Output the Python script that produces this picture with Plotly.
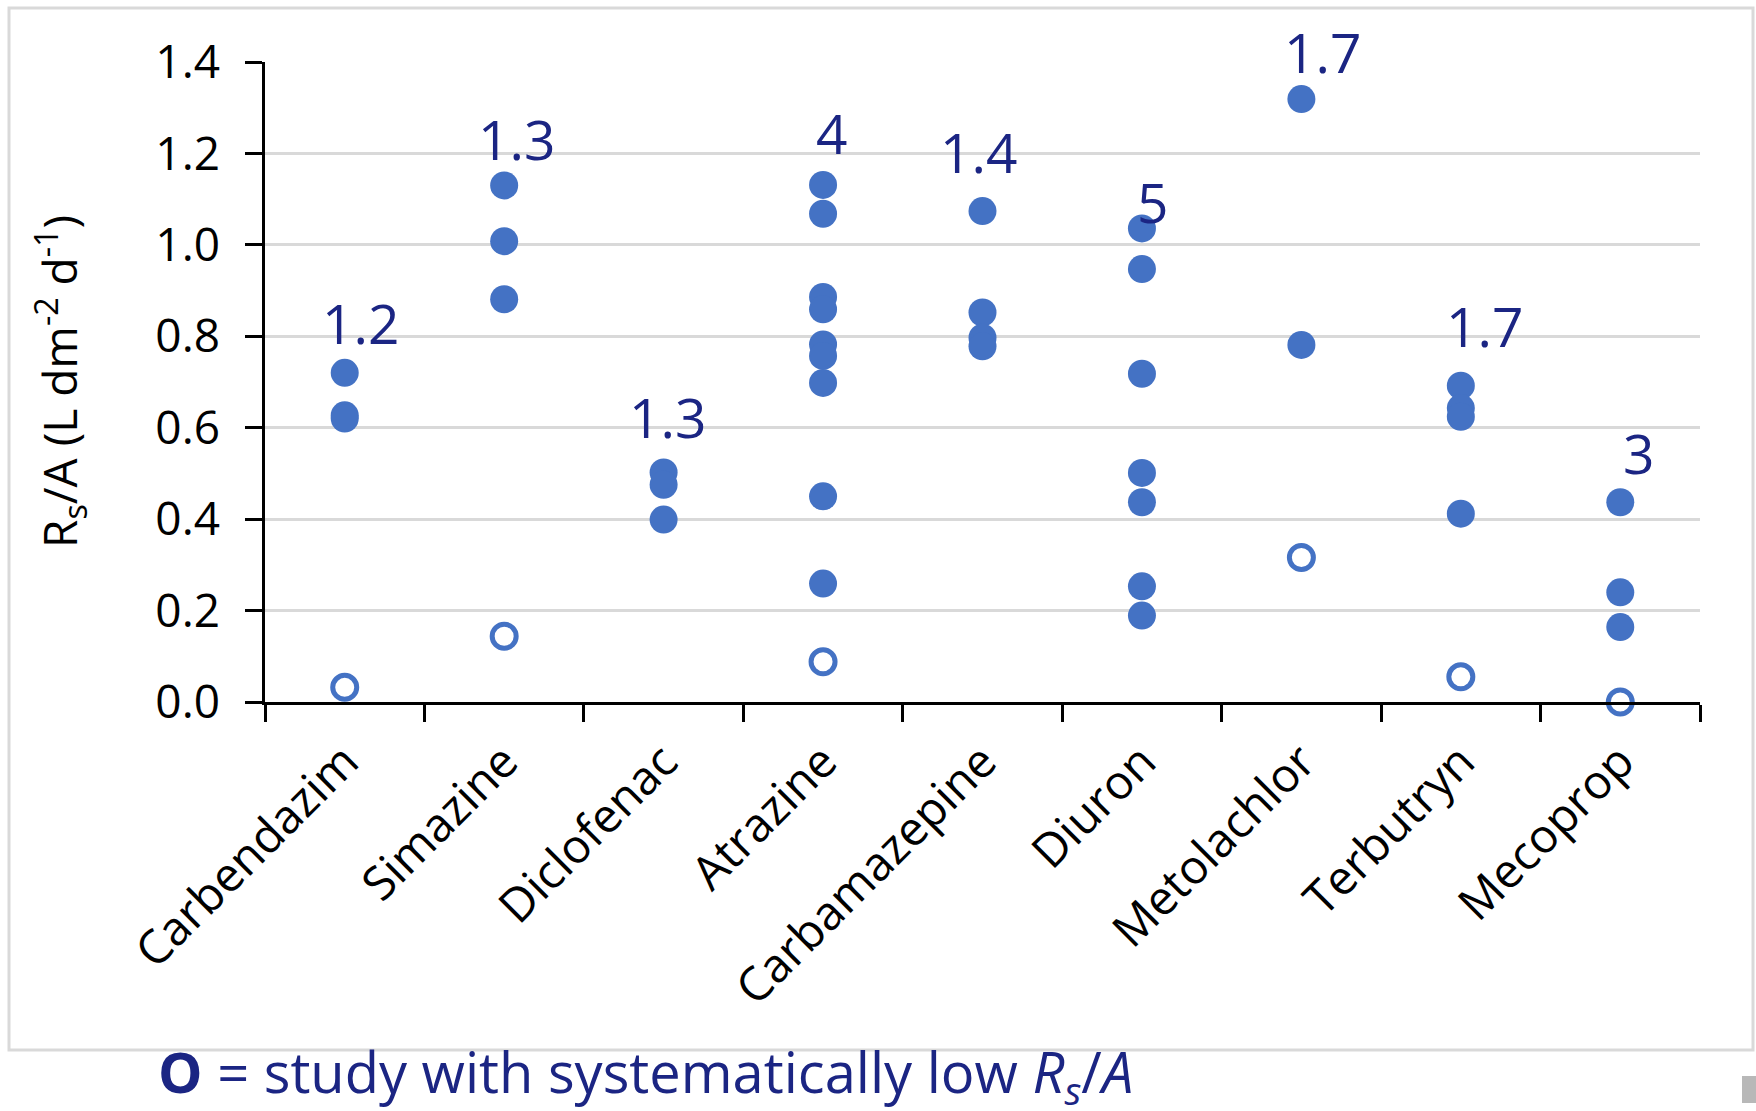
import plotly.graph_objects as go

# ---------------- data ----------------
categories = ["Carbendazim", "Simazine", "Diclofenac", "Atrazine", "Carbamazepine",
              "Diuron", "Metolachlor", "Terbutryn", "Mecoprop"]

carbendazim = [0.72, 0.627, 0.62]
simazine = [1.13, 1.008, 0.881]
diclofenac = [0.502, 0.475, 0.399]
atrazine = [1.131, 1.068, 0.886, 0.859, 0.782, 0.757, 0.698, 0.45, 0.259]
carbamazepine = [1.074, 0.852, 0.797, 0.778]
diuron = [1.036, 0.947, 0.718, 0.501, 0.437, 0.253, 0.189]
metolachlor = [1.319, 0.781]
terbutryn = [0.692, 0.643, 0.624, 0.412]
mecoprop = [0.437, 0.24, 0.164]

filled_values = [carbendazim, simazine, diclofenac, atrazine, carbamazepine,
                 diuron, metolachlor, terbutryn, mecoprop]

# studies with systematically low Rs/A (open circles)
open_categories = ["Carbendazim", "Simazine", "Atrazine", "Metolachlor", "Terbutryn", "Mecoprop"]
open_values = [0.032, 0.144, 0.088, 0.316, 0.055, 0.0]

ratio_labels = ["1.2", "1.3", "1.3", "4", "1.4", "5", "1.7", "1.7", "3"]

y_ticks = [0.0, 0.2, 0.4, 0.6, 0.8, 1.0, 1.2, 1.4]

# ---------------- layout constants ----------------
W, H = 1756, 1111
L, R, T, B = 265, 56, 62, 409
PW, PH = W - L - R, H - T - B
Y_MAX = 1.4

def px_x(x):
    return (x - L) / PW

def px_y(y):
    return (H - B - y) / PH

BLUE = "#4472C4"
NAVY = "#1B2583"
FONT = "Open Sans"

# label placement (y in axis units -> paper, x shift in px)
label_y = [0.83, 1.233, 0.624, 1.246, 1.204, 1.094, 1.424, 0.824, 0.546]
label_xshift = [16, 12, 4, 8, -4, 11, 21, 24, 18]

fig = go.Figure()

fx, fy = [], []
for cat, vals in zip(categories, filled_values):
    for v in vals:
        fx.append(cat)
        fy.append(v)

fig.add_trace(go.Scatter(
    x=fx, y=fy, mode="markers",
    marker=dict(size=28, color=BLUE, line=dict(width=0)),
    cliponaxis=False, showlegend=False,
))
fig.add_trace(go.Scatter(
    x=open_categories, y=open_values, mode="markers",
    marker=dict(size=24, color="white", line=dict(width=5, color=BLUE)),
    cliponaxis=False, showlegend=False,
))

annotations = []
for i, (txt, yy, xs) in enumerate(zip(ratio_labels, label_y, label_xshift)):
    annotations.append(dict(
        x=(i + 0.5) / len(categories), y=yy / Y_MAX, xref="paper", yref="paper",
        text=txt, showarrow=False,
        xshift=xs, yanchor="middle", xanchor="center",
        font=dict(family=FONT, size=55, color=NAVY),
    ))

# y-axis title
annotations.append(dict(
    x=px_x(60), y=0.5, xref="paper", yref="paper",
    text="R<sub>s</sub>/A (L dm<sup>-2</sup> d<sup>-1</sup>)",
    textangle=-90, showarrow=False, xanchor="center", yanchor="middle",
    font=dict(family=FONT, size=46, color="black"),
))

# bottom note
annotations.append(dict(
    x=px_x(156), y=px_y(1074), xref="paper", yref="paper",
    text="<b>O</b> = study with systematically low <i>R<sub>s</sub></i>/<i>A</i>",
    showarrow=False, xanchor="left", yanchor="middle",
    font=dict(family=FONT, size=56, color=NAVY),
))

shapes = [
    dict(type="rect", xref="paper", yref="paper",
         x0=px_x(9), x1=px_x(1753), y0=px_y(1050), y1=px_y(8),
         line=dict(color="#D9D9D9", width=3), fillcolor="rgba(0,0,0,0)", layer="below"),
    dict(type="rect", xref="paper", yref="paper",
         x0=px_x(1742), x1=px_x(1758), y0=px_y(1103), y1=px_y(1076),
         line=dict(color="#B8B8B8", width=0), fillcolor="#B8B8B8"),
]

fig.update_layout(
    width=W, height=H,
    margin=dict(l=L, r=R, t=T, b=B, pad=0),
    paper_bgcolor="white", plot_bgcolor="white",
    font=dict(family=FONT, size=46, color="black"),
    annotations=annotations, shapes=shapes,
    xaxis=dict(
        type="category", categoryorder="array", categoryarray=categories,
        range=[-0.5, len(categories) - 0.5],
        showgrid=False, showline=True, linecolor="black", linewidth=3,
        ticks="outside", tickson="boundaries", ticklen=17, tickwidth=2.5, tickcolor="black",
        tickangle=-45, tickfont=dict(family=FONT, size=47, color="black"),
        ticklabelstandoff=10,
    ),
    yaxis=dict(
        range=[0, Y_MAX], tickvals=y_ticks, ticktext=[f"{v:.1f}" for v in y_ticks],
        showgrid=True, gridcolor="#D9D9D9", gridwidth=3,
        zeroline=False, showline=True, linecolor="black", linewidth=2.5,
        ticks="outside", ticklen=17, tickwidth=2.5, tickcolor="black",
        tickfont=dict(family=FONT, size=46, color="black"),
        ticklabelstandoff=16,
    ),
)

fig.write_html("out.html")
